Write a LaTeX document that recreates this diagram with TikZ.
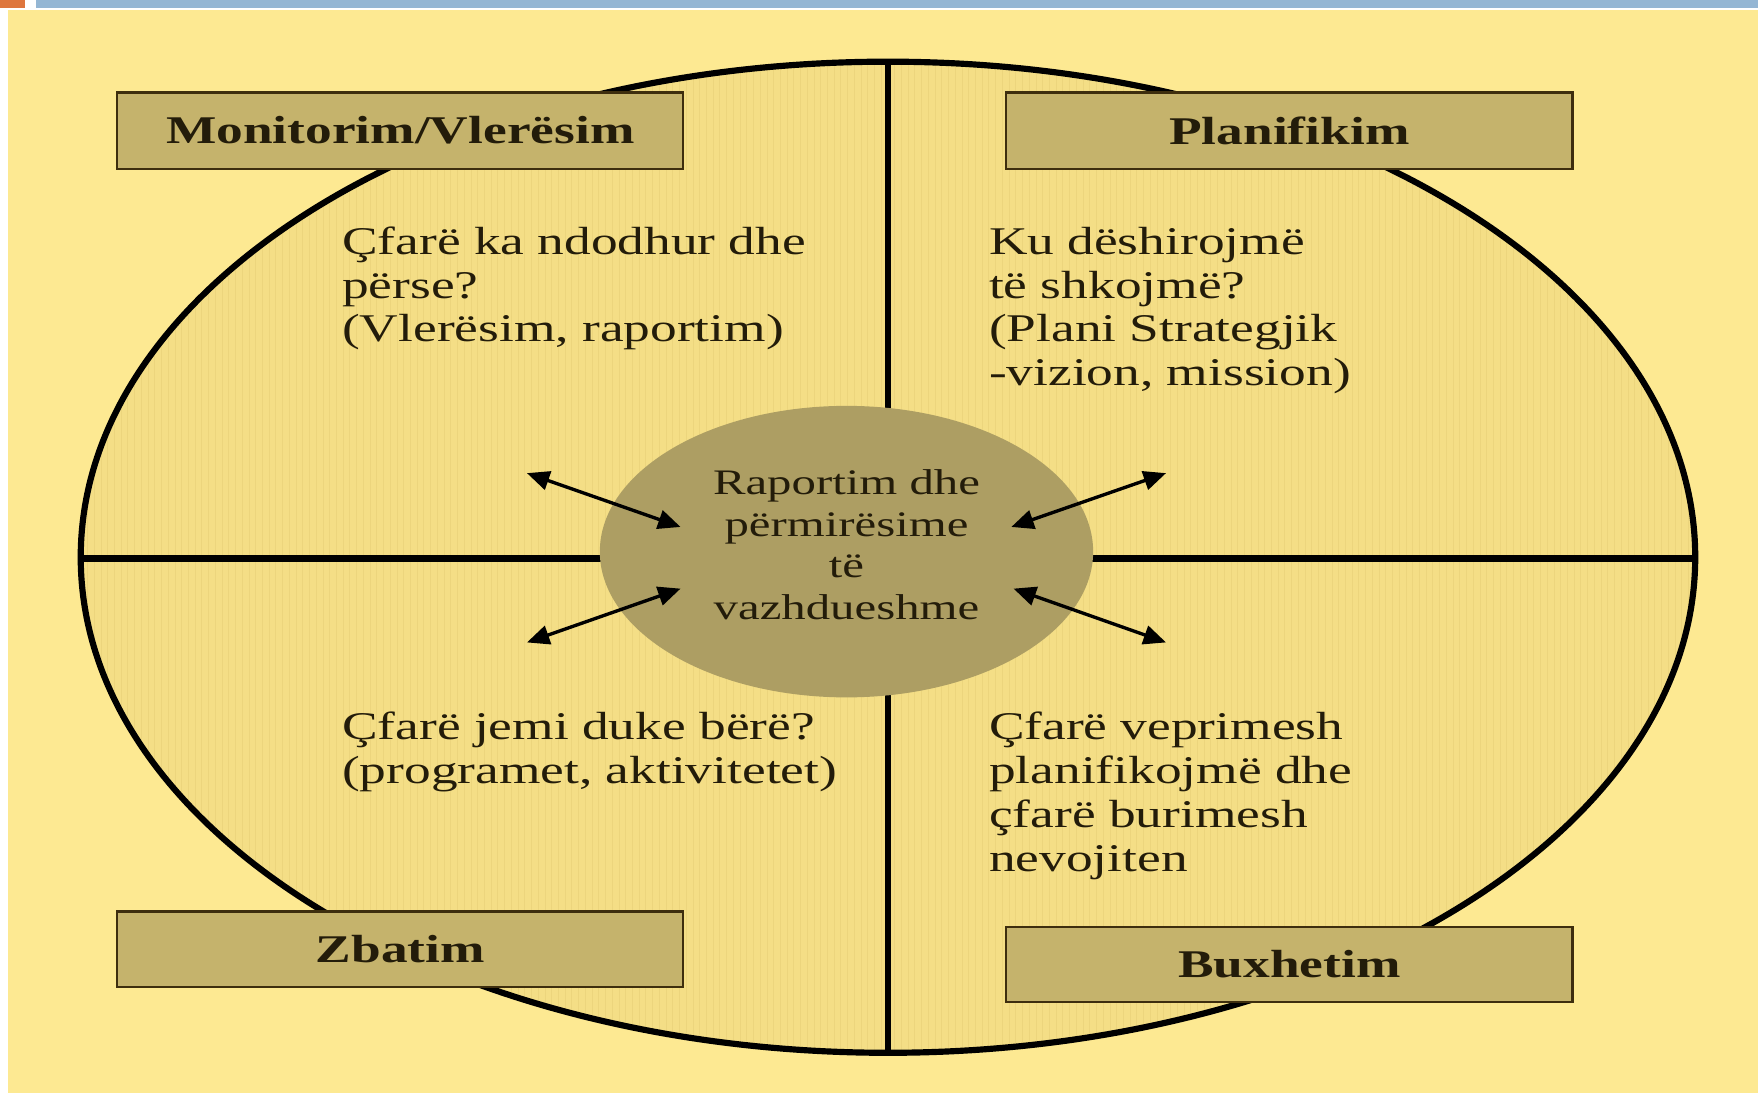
\documentclass[tikz,border=0pt]{standalone}
\usepackage{fontspec}
\setmainfont[FakeStretch=1.36]{Liberation Serif}
\usetikzlibrary{shapes.geometric,arrows.meta}

\definecolor{bgyellow}{RGB}{253,233,146}
\definecolor{innerfill}{RGB}{244,222,134}
\definecolor{gridtone}{RGB}{232,208,120}
\definecolor{boxfill}{RGB}{197,179,108}
\definecolor{boxline}{RGB}{62,46,14}
\definecolor{hubfill}{RGB}{173,158,99}
\definecolor{barblue}{RGB}{148,182,212}
\definecolor{barorange}{RGB}{222,118,62}
\definecolor{ink}{RGB}{35,28,10}

\begin{document}
\begin{tikzpicture}[x=1pt,y=-1pt,
  stagebox/.style={draw=boxline, line width=2pt, fill=boxfill, inner sep=0pt,
    minimum width=505pt, minimum height=68pt,
    font=\fontsize{35}{40}\selectfont\bfseries, text=ink},
  % multi-line text: the base anchor sits on the last line's baseline
  question/.style={anchor=base west, align=left, inner sep=0pt,
    font=\fontsize{35}{39}\selectfont, text=ink},
  divider/.style={line width=6pt, draw=black},
  twoway/.style={line width=3pt, draw=black,
    {Triangle[length=20pt,width=17pt]}-{Triangle[length=20pt,width=17pt]}}
]
\useasboundingbox (0,0) rectangle (1568,975);

% slide frame
\fill[white] (0,0) rectangle (1568,975);
\fill[barorange] (0,0) rectangle (22,7);
\fill[barblue] (32,0) rectangle (1568,7);
\fill[bgyellow] (7,9) rectangle (1568,975);

% outer cycle ellipse with its faint grid texture
\coordinate (c) at (792,497);
\fill[innerfill] (c) ellipse [x radius=720, y radius=442];
\begin{scope}
  \clip (c) ellipse [x radius=720, y radius=442];
  \draw[gridtone, line width=0.7pt, opacity=0.6] (70,53) grid[step=6] (1515,943);
\end{scope}
\draw[line width=5.5pt] (c) ellipse [x radius=720, y radius=442];

% quadrant dividers
\coordinate (vtop) at (792,55);
\coordinate (vbot) at (792,940);
\coordinate (hleft) at (72,498);
\coordinate (hright) at (1512,498);
\draw[divider] (vtop) -- (vbot);
\draw[divider] (hleft) -- (hright);

% central hub
\node[ellipse, fill=hubfill, minimum width=440pt, minimum height=260pt, inner sep=0pt] (hub) at (755,492) {};
\node[align=center, inner sep=0pt, text=ink, font=\fontsize{32}{37}\selectfont] (hubtext) at (755,486)
  {Raportim dhe\\përmirësime\\të\\vazhdueshme};

% two-way arrows between the hub and the quadrants
\coordinate (tlout) at (470,422);
\coordinate (tlin) at (607,470);
\coordinate (trout) at (1040,422);
\coordinate (trin) at (902,470);
\coordinate (blout) at (470,573);
\coordinate (blin) at (607,525);
\coordinate (brout) at (1040,573);
\coordinate (brin) at (904,525);
\draw[twoway] (tlout) -- (tlin);
\draw[twoway] (trout) -- (trin);
\draw[twoway] (blout) -- (blin);
\draw[twoway] (brout) -- (brin);

% stage labels
\node[stagebox] (monitor) at (357,116.5) {Monitorim/Vlerësim};
\node[stagebox] (plan) at (1150,116.5) {Planifikim};
\node[stagebox, minimum height=67pt] (zbatim) at (357,846.5) {Zbatim};
\node[stagebox, minimum height=67pt] (buxhet) at (1150,860) {Buxhetim};

% guiding questions
\node[question] (qtl) at (305,305) {Çfarë ka ndodhur dhe\\përse?\\(Vlerësim, raportim)};
\node[question] (qtr) at (882,344) {Ku dëshirojmë\\të shkojmë?\\(Plani Strategjik\\-vizion, mission)};
\node[question] (qbl) at (305,699) {Çfarë jemi duke bërë?\\(programet, aktivitetet)};
\node[question] (qbr) at (882,777) {Çfarë veprimesh\\planifikojmë dhe\\çfarë burimesh\\nevojiten};
\end{tikzpicture}
\end{document}
